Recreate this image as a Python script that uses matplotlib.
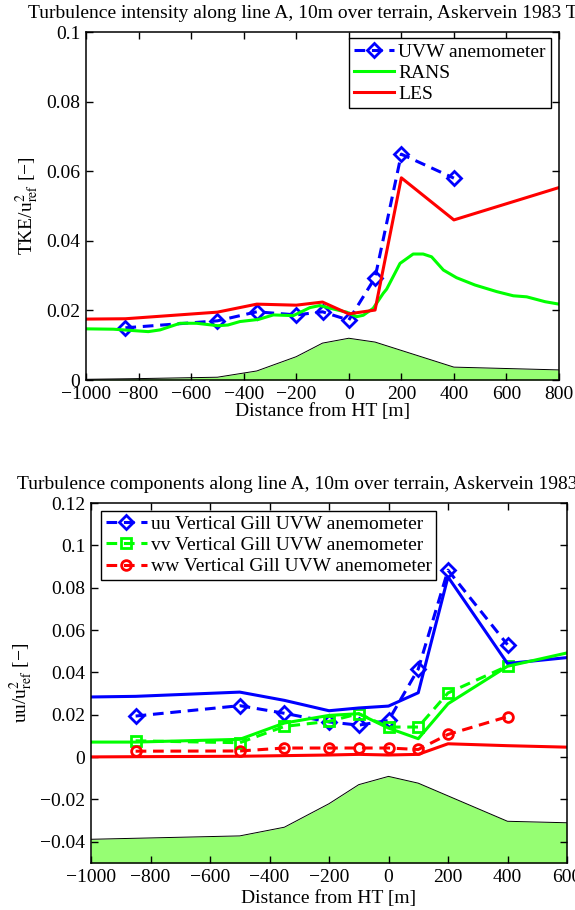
import numpy as np
import matplotlib
matplotlib.use("Agg")
import matplotlib.pyplot as plt

plt.rcParams['font.family'] = ['Liberation Serif', 'DejaVu Serif']
plt.rcParams['mathtext.fontset'] = 'stix'
plt.rcParams['font.size'] = 14

# ---- top panel: TKE along line A ----
x_meas = [-850, -500, -350, -200, -100, 0, 100, 200, 400]
tke_uvw = [0.0150, 0.0170, 0.0196, 0.0187, 0.0196, 0.0172, 0.0294, 0.0649, 0.0580]

x_les = [-1000, -850, -500, -350, -200, -100, 0, 100, 200, 400, 800]
tke_les = [0.0175, 0.0176, 0.0195, 0.0218, 0.0215, 0.0224, 0.0190, 0.0201, 0.0581, 0.0460, 0.0553]

x_rans = [-1000, -896, -763, -718, -642, -579, -498, -460, -414, -344, -287, -211,
          -148, -110, -59, -8, 30, 55, 93, 131, 144, 195, 245, 283, 315, 360,
          410, 480, 563, 626, 677, 747, 800]
tke_rans = [0.0147, 0.0146, 0.0139, 0.0144, 0.0163, 0.0163, 0.0156, 0.0158, 0.0168,
            0.0174, 0.0187, 0.0185, 0.0208, 0.0214, 0.0204, 0.0195, 0.0182, 0.0186,
            0.0206, 0.0249, 0.0261, 0.0335, 0.0362, 0.0362, 0.0354, 0.0316, 0.0294,
            0.0273, 0.0254, 0.0242, 0.0239, 0.0225, 0.0218]

x_terr_top = [-1000, -800, -500, -350, -200, -100, 0, 100, 400, 800]
terr_top = [0.0002, 0.0004, 0.0008, 0.0026, 0.0067, 0.0106, 0.0120, 0.0109, 0.0037, 0.0029]

# ---- bottom panel: turbulence components ----
uu_meas = [0.0194, 0.0243, 0.0207, 0.0166, 0.0151, 0.0173, 0.0416, 0.0883, 0.0531]
vv_meas = [0.0077, 0.0068, 0.0145, 0.0169, 0.0205, 0.0142, 0.0142, 0.0303, 0.0430]
ww_meas = [0.0028, 0.0029, 0.0043, 0.0043, 0.0043, 0.0043, 0.0036, 0.0107, 0.0191]

x_mod = [-1000, -850, -500, -350, -200, -100, 0, 100, 200, 400, 600]
uu_mod = [0.0284, 0.0287, 0.0307, 0.0268, 0.0219, 0.0232, 0.0241, 0.0304, 0.0851, 0.0442, 0.0470]
vv_mod = [0.0071, 0.0071, 0.0084, 0.0161, 0.0197, 0.0205, 0.0137, 0.0087, 0.0252, 0.0429, 0.0492]
ww_mod = [0.0001, 0.0002, 0.0004, 0.0007, 0.0010, 0.0013, 0.0010, 0.0013, 0.0063, 0.0054, 0.0047]

x_terr_bot = [-1000, -500, -350, -200, -100, 0, 100, 400, 600]
terr_bot = [-0.0388, -0.0372, -0.0331, -0.0220, -0.0130, -0.0091, -0.0123, -0.0303, -0.0310]

terrain_green = '#96fe73'
dash = (0, (3.5, 2.2))


def fmt(v):
    return ('%g' % v).replace('-', '\u2212')


def style_axes(ax, xt, yt):
    ax.set_xticks(xt)
    ax.set_xticklabels([fmt(v) for v in xt])
    ax.set_yticks(yt)
    ax.set_yticklabels([fmt(v) for v in yt])
    ax.tick_params(direction='in', top=True, right=True, length=5, width=1, pad=4)
    for s in ax.spines.values():
        s.set_linewidth(1.1)


def add_legend(ax, loc, anchor):
    leg = ax.legend(loc=loc, bbox_to_anchor=anchor, bbox_transform=fig.transFigure,
                    borderaxespad=0, fancybox=False, edgecolor='k', framealpha=1,
                    fontsize=14, handlelength=2.1, handletextpad=0.2,
                    labelspacing=0.18, borderpad=0.25)
    leg.get_frame().set_linewidth(1.0)


fig = plt.figure(figsize=(5.75, 9.1), dpi=100)

# top
ax1 = fig.add_axes([86 / 575, 1 - 380 / 910, 473 / 575, 348 / 910])
ax1.fill_between(x_terr_top, terr_top, 0, color=terrain_green, lw=0)
ax1.plot(x_terr_top, terr_top, color='k', lw=0.7)
ax1.plot(x_meas, tke_uvw, color='b', ls=dash, lw=2.2, marker='D', ms=7,
         mfc='none', mec='b', mew=2, label='UVW anemometer')
ax1.plot(x_rans, tke_rans, color='#00ff00', lw=2.2, label='RANS')
ax1.plot(x_les, tke_les, color='r', lw=2.2, label='LES')
ax1.set_xlim(-1000, 800)
ax1.set_ylim(0, 0.1)
style_axes(ax1, np.arange(-1000, 801, 200), [0, 0.02, 0.04, 0.06, 0.08, 0.1])
fig.text(28 / 575, 1 - 18 / 910,
         'Turbulence intensity along line A, 10m over terrain, Askervein 1983 TU',
         ha='left', va='baseline', fontsize=14)
ax1.set_xlabel('Distance from HT [m]', labelpad=0)
ax1.set_ylabel('TKE/u$^2_{\\rm ref}$ [\u2212]', labelpad=4)
add_legend(ax1, 'upper right', (550.7 / 575, 1 - 38.3 / 910))

# bottom
ax2 = fig.add_axes([91 / 575, 1 - 863 / 910, 476 / 575, 360 / 910])
ax2.fill_between(x_terr_bot, terr_bot, -0.05, color=terrain_green, lw=0)
ax2.plot(x_terr_bot, terr_bot, color='k', lw=0.7)
ax2.plot(x_meas, uu_meas, color='b', ls=dash, lw=2.2, marker='D', ms=7,
         mfc='none', mec='b', mew=2, label='uu Vertical Gill UVW anemometer')
ax2.plot(x_meas, vv_meas, color='#00ff00', ls=dash, lw=2.2, marker='s', ms=6.5,
         mfc='none', mec='#00ff00', mew=2, label='vv Vertical Gill UVW anemometer')
ax2.plot(x_meas, ww_meas, color='r', ls=dash, lw=2.2, marker='o', ms=7,
         mfc='none', mec='r', mew=2, label='ww Vertical Gill UVW anemometer')
ax2.plot(x_mod, uu_mod, color='b', lw=2.2)
ax2.plot(x_mod, vv_mod, color='#00ff00', lw=2.2)
ax2.plot(x_mod, ww_mod, color='r', lw=2.2)
ax2.set_xlim(-1000, 600)
ax2.set_ylim(-0.05, 0.12)
style_axes(ax2, np.arange(-1000, 601, 200),
           [-0.04, -0.02, 0, 0.02, 0.04, 0.06, 0.08, 0.1, 0.12])
fig.text(17 / 575, 1 - 489 / 910,
         'Turbulence components along line A, 10m over terrain, Askervein 1983 TU',
         ha='left', va='baseline', fontsize=14)
ax2.set_xlabel('Distance from HT [m]', labelpad=3)
ax2.set_ylabel('uu/u$^2_{\\rm ref}$ [\u2212]', labelpad=4)
add_legend(ax2, 'upper left', (101 / 575, 1 - 510.7 / 910))

fig.savefig('out.png', dpi=100)
